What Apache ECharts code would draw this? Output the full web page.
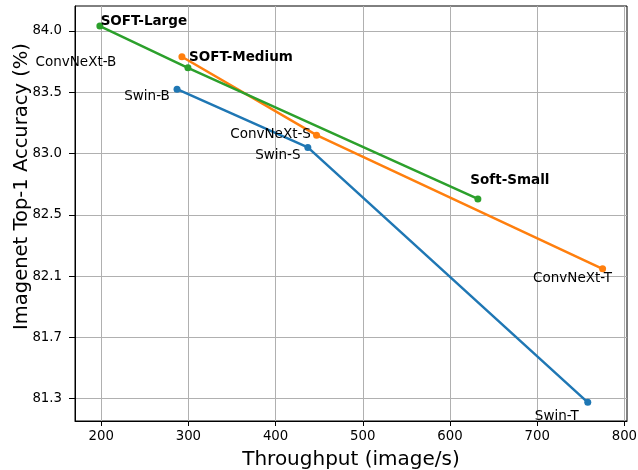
<!DOCTYPE html>
<html>
<head>
<meta charset="utf-8">
<script src="https://cdn.jsdelivr.net/npm/echarts@6/dist/echarts.min.js"></script>
<style>
  html, body { margin: 0; padding: 0; background: #fff; }
  #chart { width: 638px; height: 470px; }
</style>
</head>
<body>
<div id="chart"></div>
<script>
// throughput (image/s) and top-1 accuracy, read in the plot's linear y scale
const swinNames = ['Swin-T', 'Swin-S', 'Swin-B'];
const swinThroughput = [758, 437, 287];
const swinAcc = [80.97, 83.05, 83.525];

const convNames = ['ConvNeXt-T', 'ConvNeXt-S', 'ConvNeXt-B'];
const convThroughput = [775, 447, 292.6];
const convAcc = [82.06, 83.15, 83.79];

const softNames = ['Soft-Small', 'SOFT-Medium', 'SOFT-Large'];
const softThroughput = [632, 299.5, 198.5];
const softAcc = [82.63, 83.70, 84.04];

// y ticks are evenly spaced but labelled unevenly
const yTickPos = [81.0, 81.5, 82.0, 82.5, 83.0, 83.5, 84.0];
const yTickLabels = ['81.3', '81.7', '82.1', '82.5', '83.0', '83.5', '84.0'];
const xTicks = [200, 300, 400, 500, 600, 700, 800];

// label offsets (px) from each point, and which labels are bold
const labelOffsets = {
    'Swin-T': [-31, 14], 'Swin-S': [-30, 8], 'Swin-B': [-30, 7],
    'ConvNeXt-T': [-30, 10], 'ConvNeXt-S': [-46, -1], 'ConvNeXt-B': [-106, 6],
    'Soft-Small': [32, -18], 'SOFT-Medium': [53, -10], 'SOFT-Large': [44, -5]
};
const boldNames = ['Soft-Small', 'SOFT-Medium', 'SOFT-Large'];

const font = 'DejaVu Sans';

function makeSeries(names, xs, ys, color) {
    return {
        type: 'line',
        data: xs.map((x, i) => ({
            value: [x, ys[i]],
            label: {
                show: true,
                formatter: names[i],
                position: 'inside',
                offset: labelOffsets[names[i]],
                fontWeight: boldNames.includes(names[i]) ? 'bold' : 'normal'
            }
        })),
        symbol: 'circle',
        symbolSize: 7,
        showSymbol: true,
        lineStyle: { color: color, width: 2.5 },
        itemStyle: { color: color },
        label: { color: '#000', fontFamily: font, fontSize: 13.5 },
        emphasis: { disabled: true },
        animation: false
    };
}

const option = {
    backgroundColor: '#fff',
    grid: {
        left: 75, right: 11, top: 6, bottom: 49,
        outerBoundsMode: 'none',
        containLabel: false,
        show: true, borderColor: '#000', borderWidth: 1
    },
    xAxis: {
        type: 'value',
        min: 170,
        max: 803,
        name: 'Throughput (image/s)',
        nameLocation: 'middle',
        nameGap: 29,
        nameMoveOverlap: false,
        nameTextStyle: { fontFamily: font, fontSize: 20, color: '#000' },
        axisLine: { show: true, lineStyle: { color: '#000' } },
        axisTick: { show: true, length: 5, customValues: xTicks, lineStyle: { color: '#000' } },
        axisLabel: { customValues: xTicks, fontFamily: font, fontSize: 13.3, color: '#000', margin: 9 },
        splitLine: { show: true, lineStyle: { color: '#b0b0b0', width: 1 } }
    },
    yAxis: {
        type: 'value',
        min: 80.818,
        max: 84.204,
        name: 'Imagenet Top-1 Accuracy (%)',
        nameLocation: 'middle',
        nameGap: 43,
        nameMoveOverlap: false,
        nameTextStyle: { fontFamily: font, fontSize: 19.5, color: '#000', padding: [0, 0, 0, 54] },
        axisLine: { show: true, lineStyle: { color: '#000' } },
        axisTick: { show: true, length: 6, customValues: yTickPos, lineStyle: { color: '#000' } },
        axisLabel: {
            customValues: yTickPos,
            fontFamily: font, fontSize: 13.3, color: '#000', margin: 13,
            formatter: v => {
                const i = yTickPos.findIndex(p => Math.abs(p - v) < 1e-6);
                return i >= 0 ? yTickLabels[i] : '';
            }
        },
        splitLine: { show: true, lineStyle: { color: '#b0b0b0', width: 1 } }
    },
    series: [
        makeSeries(swinNames, swinThroughput, swinAcc, '#1f77b4'),
        makeSeries(convNames, convThroughput, convAcc, '#ff7f0e'),
        makeSeries(softNames, softThroughput, softAcc, '#2ca02c')
    ]
};

const chart = echarts.init(document.getElementById('chart'));
chart.setOption(option);
window.addEventListener('resize', function () {
    chart.resize();
});
</script>
</body>
</html>
